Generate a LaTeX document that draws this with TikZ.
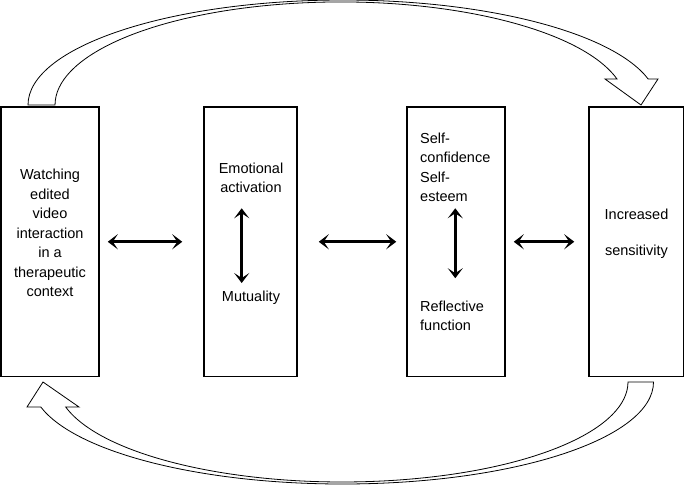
\documentclass[tikz,border=0pt]{standalone}
\usepackage{fontspec}
\setmainfont{Liberation Sans}
\usepackage{tikz}
\usetikzlibrary{arrows.meta}
\usetikzlibrary{calc}
\tikzset{ block_box/.style = {rectangle, draw, line width=1.5pt, fill=white, minimum height=269.5pt} }
\tikzset{ box_text/.style = {inner sep=0pt, align=center, font=\fontsize{14.5}{19.5}\selectfont} }
\tikzset{ dbl_arrow/.style = {line width=2.8pt, {Stealth[length=10pt,width=15pt,inset=5pt]}-{Stealth[length=10pt,width=15pt,inset=5pt]}} }
\tikzset{ bent_arrow/.style = {draw, line width=0.8pt, fill=white, line join=miter} }

\begin{document}
\begin{tikzpicture}[x=1pt, y=-1pt]
            \useasboundingbox (0,0) rectangle (685,485);
            % curved block arrows
            \path[bent_arrow] (28,105) arc[start angle=180, end angle=345.7, x radius=315, y radius=105]
                -- (658,79) -- (641,105) -- (605,79) -- (617,79)
                arc[start angle=345.4, end angle=180, x radius=285.6, y radius=103] -- cycle;
            \path[bent_arrow] (653.5,382) arc[start angle=0, end angle=165.8, x radius=311.1, y radius=102]
                -- (27,407) -- (43,382) -- (79,407) -- (65.7,407)
                arc[start angle=165.5, end angle=0, x radius=285.7, y radius=100] -- cycle;
            % boxes
            \node[block_box, minimum width=98pt] (0) at (50,241.75) {};
            \node[block_box, minimum width=93pt] (1) at (250.5,241.75) {};
            \node[block_box, minimum width=98pt] (2) at (456,241.75) {};
            \node[block_box, minimum width=94.5pt] (3) at (636.25,241.75) {};
            % texts
            \node[box_text] (watch) at (50,233) {Watching\\edited\\video\\interaction\\in a\\therapeutic\\context};
            \node[box_text] (emo) at (251,178) {Emotional\\activation};
            \node[box_text] (mut) at (251,298) {Mutuality};
            \node[box_text, align=left, anchor=west] (self) at (420,167.5) {Self-\\confidence\\Self-\\esteem};
            \node[box_text, align=left, anchor=west] (refl) at (420,316) {Reflective\\function};
            \node[box_text] (sens) at (636.5,233.5) {Increased\\[17pt]sensitivity};
            % arrows
            \draw[dbl_arrow, shorten <=8pt, shorten >=21pt] (0.east) -- (1.west);
            \draw[dbl_arrow, shorten <=21pt, shorten >=10pt] (1.east) -- (2.west);
            \draw[dbl_arrow, shorten <=8pt, shorten >=14pt] (2.east) -- (3.west);
            \draw[dbl_arrow, shorten <=15pt, shorten >=8pt] ([xshift=-9.3pt]emo.south) -- ([xshift=-9.3pt]emo.south |- mut.north);
            \draw[dbl_arrow, shorten <=6pt, shorten >=22.5pt] (self.south) -- (self.south |- refl.north);
        \end{tikzpicture}
\end{document}
